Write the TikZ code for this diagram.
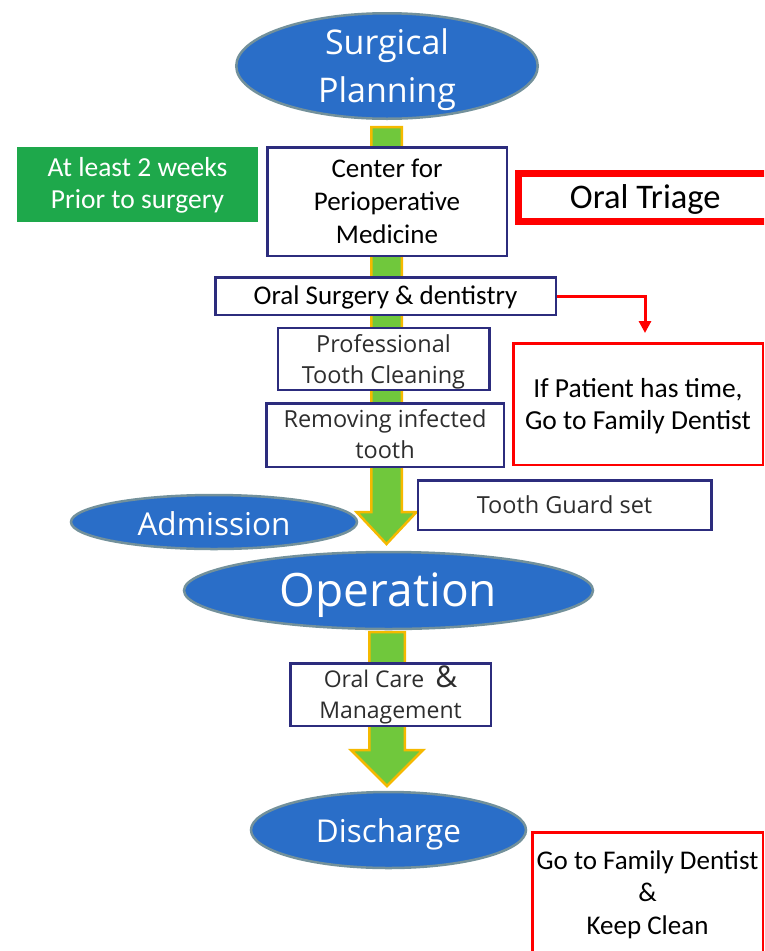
\documentclass[tikz,border=0pt]{standalone}
\usepackage{fontspec}
\setmainfont{Carlito}
\newfontfamily\osans{Open Sans}
\usetikzlibrary{shapes.geometric,arrows.meta}
\definecolor{ellblue}{RGB}{42,110,200}
\definecolor{ellrim}{RGB}{115,145,155}
\definecolor{navy}{RGB}{44,44,125}
\definecolor{boxgreen}{RGB}{30,168,75}
\definecolor{arrgreen}{RGB}{112,200,60}
\definecolor{arrorange}{RGB}{245,185,0}
\definecolor{pred}{RGB}{255,0,0}
\definecolor{softtext}{RGB}{45,45,45}
\newcommand{\lowered}[2]{\raisebox{-#1}[\height][\depth]{\begin{tabular}{@{}c@{}}#2\end{tabular}}}
\begin{document}
\begin{tikzpicture}[x=1pt,y=-1pt,
  oval/.style={ellipse, fill=ellblue, draw=ellrim, line width=2.5pt, text=white, inner sep=0pt, align=center},
  navybox/.style={rectangle, draw=navy, fill=white, line width=2.5pt, inner sep=0pt, align=center},
  redbox/.style={rectangle, draw=pred, fill=white, line width=2.5pt, inner sep=0pt, align=center},
  bigarrow/.style={fill=arrgreen, draw=arrorange, line width=2.5pt, line join=miter},
  redline/.style={draw=pred, line width=3pt, -{Triangle[length=12pt,width=12pt]}}]
\useasboundingbox (0,0) rectangle (764,951);
\clip (0,0) rectangle (764,951);
\fill[white] (0,0) rectangle (764,951);

% Admission sits beneath the first arrow head
\node[oval, minimum width=286pt, minimum height=54pt, font=\osans\fontsize{31.5}{36}\selectfont] (adm) at (214,522) {\lowered{6pt}{Admission}};

% big arrows
\draw[bigarrow] (371.25,127) -- (401.75,127) -- (401.75,512) -- (416.5,512) -- (386.5,544) -- (356.5,512) -- (371.25,512) -- cycle;
\draw[bigarrow] (369.25,632) -- (404.75,632) -- (404.75,750) -- (423,750) -- (387,786) -- (351,750) -- (369.25,750) -- cycle;

% ellipses
\node[oval, inner ysep=-16pt, minimum width=301.5pt, minimum height=105.5pt, font=\osans\fontsize{34}{48}\selectfont] (sp) at (387,66) {\lowered{2.4pt}{Surgical\\Planning}};
\node[oval, minimum width=409pt, minimum height=77pt, font=\osans\fontsize{46}{52}\selectfont] (op) at (388.5,590.5) {\lowered{6pt}{Operation}};
\node[oval, minimum width=275pt, minimum height=76pt, font=\osans\fontsize{31.5}{36}\selectfont] (dis) at (388.5,830) {\lowered{5pt}{Discharge}};

% left green note
\node[fill=boxgreen, text=white, inner sep=0pt, minimum width=241pt, minimum height=75pt, align=center, font=\fontsize{27.5}{32}\selectfont] (wk) at (137.5,184.5) {\lowered{1.5pt}{At least 2 weeks\\Prior to surgery}};

% main column boxes
\node[navybox, minimum width=239.5pt, minimum height=108.5pt, font=\fontsize{27}{33}\selectfont] (cpm) at (387,201.5) {\lowered{2pt}{Center for\\Perioperative\\Medicine}};
\node[navybox, minimum width=340.5pt, minimum height=37.5pt, font=\fontsize{27}{32}\selectfont] (osd) at (385.5,296) {\lowered{2pt}{Oral Surgery \& dentistry}};
\node[navybox, minimum width=211.5pt, minimum height=59.5pt, text=softtext, font=\osans\fontsize{23.5}{31}\selectfont] (ptc) at (383.5,359) {\lowered{2.3pt}{Professional\\Tooth Cleaning}};
\node[navybox, minimum width=237.5pt, minimum height=63.5pt, text=softtext, font=\osans\fontsize{23.5}{31}\selectfont] (rit) at (385,435) {\lowered{1.3pt}{Removing infected\\tooth}};
\node[navybox, minimum width=293.5pt, minimum height=49.5pt, text=softtext, font=\osans\fontsize{23.5}{30}\selectfont] (tgs) at (564.5,505) {Tooth Guard set};
\node[navybox, minimum width=200.5pt, minimum height=62.5pt, text=softtext, font=\osans\fontsize{23}{31}\selectfont] (ocm) at (390.5,694.5) {\lowered{1.8pt}{Oral Care\hspace{11pt}{\fontsize{30}{31}\selectfont\&}\\Management}};

% right red boxes
\node[draw=pred, fill=white, line width=7pt, inner sep=0pt, minimum width=253.5pt, minimum height=48pt, font=\fontsize{34.5}{40}\selectfont] (ot) at (645.25,197.5) {\lowered{3pt}{Oral Triage}};
\node[redbox, minimum width=249.5pt, minimum height=121.5pt, font=\fontsize{27.5}{32}\selectfont] (ifp) at (638,404) {\lowered{2.6pt}{If Patient has time,\\Go to Family Dentist}};
\node[redbox, minimum width=230.5pt, minimum height=121.5pt, font=\fontsize{27}{32.5}\selectfont] (gfd) at (647.5,893) {\lowered{2pt}{Go to Family Dentist\\\&\\Keep Clean}};

% red connector
\coordinate (drop) at (645,333);
\draw[redline] (osd.east) -| (drop);
\end{tikzpicture}
\end{document}
